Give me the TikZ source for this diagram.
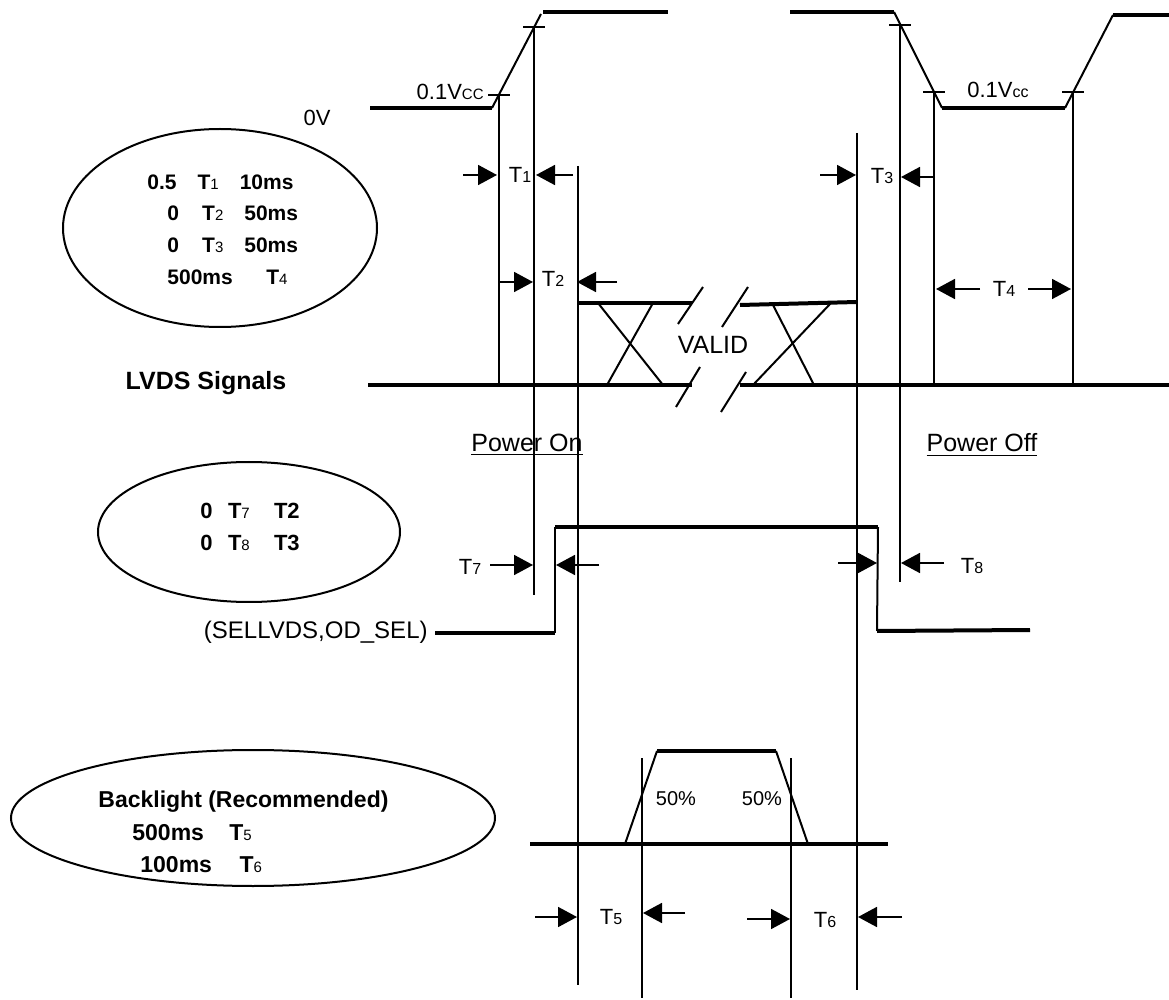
\documentclass[tikz,border=0pt]{standalone}
\usepackage{fontspec}
\setmainfont{Liberation Sans}
\usetikzlibrary{arrows.meta}

\tikzset{
  lvl/.style={line width=2pt},
  ramp/.style={line width=1pt},
  guide/.style={line width=1pt},
  dimarr/.style={line width=0.9pt,-{Triangle[length=9.5pt,width=10pt]}},
  lab/.style={font=\fontsize{11}{13}\selectfont,inner sep=0pt},
  note/.style={font=\bfseries\fontsize{10.5}{12}\selectfont,inner sep=0pt,anchor=west},
}
\newcommand{\Tsub}[1]{T{\mdseries\fontsize{7.5}{8}\selectfont #1}}
\newcommand{\Tlab}[1]{T{\fontsize{8}{9}\selectfont #1}}

\begin{document}
\begin{tikzpicture}[x=0.5pt,y=-0.5pt]
\useasboundingbox (0,0) rectangle (1169,1000);

% supply voltage
\draw[lvl] (370,108) -- (492,108);
\draw[ramp] (492,108) -- (541,14);
\draw[lvl] (543,12) -- (668,12);
\draw[lvl] (790,12) -- (894,12);
\draw[ramp] (894,12) -- (942,108);
\draw[lvl] (942,108) -- (1065,108);
\draw[ramp] (1065,108) -- (1113,15);
\draw[lvl] (1113,15) -- (1169,15);
\foreach \x/\y in {499/95,534/27,900/25,934/92,1073/92}\draw[ramp] (\x-11,\y) -- (\x+11,\y);
\node[lab] (zerov) at (317,118) {0V};
\node[lab,anchor=east] (vccon) at (484,92) {0.1V{\fontsize{7.5}{8}\selectfont CC}};
\node[lab] (vccoff) at (998,90) {0.1V{\fontsize{8}{9}\selectfont cc}};

% timing guides
\foreach \x/\a/\b in {499/95/385,534/27/595,578/166/985,857/133/990,900/25/582,934/92/385,1073/92/385,642/758/998,791/758/998}\draw[guide] (\x,\a) -- (\x,\b);

% dimension arrows
\foreach \a/\b/\y in {463/497/175,573/536/175,500/533/282,617/577/282,820/856/175,935/901/177,980/936/289,1028/1071/289,490/533/565,599/556/565,838/877/563,944/901/563,535/577/917,685/643/913,747/790/919,902/858/917}\draw[dimarr] (\a,\y) -- (\b,\y);
\node[lab] (tone) at (520,175) {\Tlab{1}};
\node[lab] (ttwo) at (553,279) {\Tlab{2}};
\node[lab] (tthree) at (882,176) {\Tlab{3}};
\node[lab] (tfour) at (1004,289) {\Tlab{4}};
\node[lab] (tseven) at (470,567) {\Tlab{7}};
\node[lab] (teight) at (972,566) {\Tlab{8}};
\node[lab] (tfive) at (611,917) {\Tlab{5}};
\node[lab] (tsix) at (825,920) {\Tlab{6}};

% LVDS signals
\draw[lvl] (368,385) -- (692,385);
\draw[lvl] (740,385) -- (1169,385);
\draw[lvl] (578,303) -- (692,303);
\draw[lvl] (740,305) -- (857,302);
\draw[ramp] (598,303) -- (663,385);
\draw[ramp] (653,303) -- (607,385);
\draw[ramp] (773,305) -- (814,385);
\draw[ramp] (831,303) -- (753,385);
\draw[ramp] (678,324) -- (703,287);
\draw[ramp] (722,327) -- (748,287);
\draw[ramp] (676,407) -- (700,367);
\draw[ramp] (721,412) -- (746,372);
\node[lab,font=\fontsize{12.5}{14}\selectfont] (valid) at (713,345) {VALID};
\node[lab,font=\bfseries\fontsize{12.5}{14}\selectfont] (lvds) at (206,383) {LVDS Signals};
\node[lab,font=\fontsize{12.5}{14}\selectfont] (pwron) at (527,445) {\underline{Power On}};
\node[lab,font=\fontsize{12.5}{14}\selectfont] (pwroff) at (982,445) {\underline{Power Off}};

% select lines
\draw[lvl] (435,633) -- (555,633);
\draw[ramp] (555,633) -- (555,527);
\draw[lvl] (555,527) -- (878,527);
\draw[ramp] (878,527) -- (877,631);
\draw[lvl] (877,631) -- (1030,630);
\node[lab,anchor=east,font=\fontsize{12}{14}\selectfont] (sel) at (428,632) {(SELLVDS,OD\_SEL)};

% backlight
\draw[lvl] (530,844) -- (888,844);
\draw[ramp] (625,844) -- (657,751);
\draw[lvl] (657,751) -- (776,751);
\draw[ramp] (776,751) -- (808,844);
\node[lab,font=\fontsize{10}{12}\selectfont] (halfon) at (676,799) {50\%};
\node[lab,font=\fontsize{10}{12}\selectfont] (halfoff) at (762,799) {50\%};

% limits
\draw[guide] (220,228) ellipse [x radius=78.5pt,y radius=49.5pt];
\node[note] (lima) at (147,182) {0.5\hspace{1em}\Tsub{1}\hspace{1em}10ms};
\node[note] (limb) at (167,213) {0\hspace{1.1em}\Tsub{2}\hspace{1em}50ms};
\node[note] (limc) at (167,245) {0\hspace{1.1em}\Tsub{3}\hspace{1em}50ms};
\node[note] (limd) at (167,277) {500ms\hspace{1.6em}\Tsub{4}};
\draw[guide] (249,532) ellipse [x radius=75.5pt,y radius=35pt];
\node[note,font=\bfseries\fontsize{11}{13}\selectfont] (sela) at (200,511) {0\hspace{0.7em}\Tsub{7}\hspace{1.1em}T2};
\node[note,font=\bfseries\fontsize{11}{13}\selectfont] (selb) at (200,543) {0\hspace{0.7em}\Tsub{8}\hspace{1.1em}T3};
\draw[guide] (253,818) ellipse [x radius=121pt,y radius=34pt];
\node[note,font=\bfseries\fontsize{11.5}{13}\selectfont] (bla) at (98,802) {Backlight (Recommended)};
\node[note,font=\bfseries\fontsize{11.5}{13}\selectfont] (blb) at (132,833) {500ms\hspace{1.1em}\Tsub{5}};
\node[note,font=\bfseries\fontsize{11.5}{13}\selectfont] (blc) at (140,865) {100ms\hspace{1.2em}\Tsub{6}};
\end{tikzpicture}
\end{document}
